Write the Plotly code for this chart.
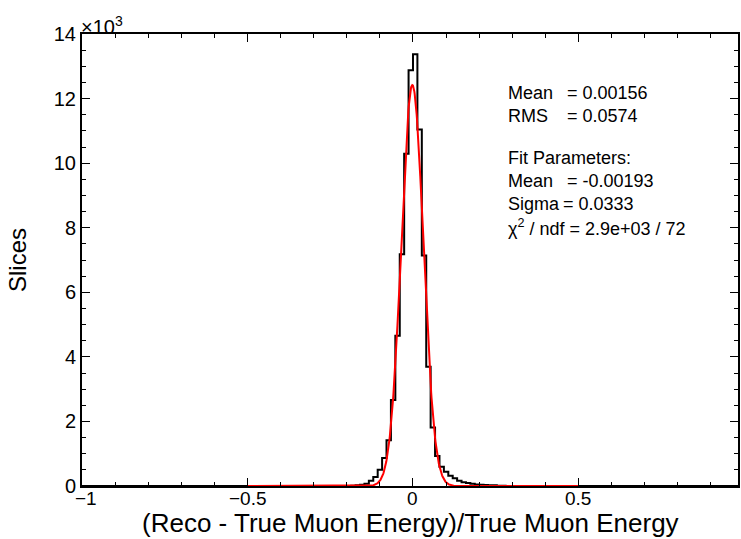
import numpy as np
import plotly.graph_objects as go

# ---- data ----
n_bins = 150
x_min, x_max = -1.0, 1.0
first_bin = 61  # index of first non-empty bin
counts_nonzero = [10, 20, 40, 70, 160, 280, 500, 870, 1420, 2660, 4650, 7180, 10290, 12880,
                  13370, 11040, 7140, 3690, 1810, 930, 600, 440, 320, 240, 160, 120, 90, 70,
                  50, 40, 30, 20, 20, 10, 10]

fit_const = 12420.0
fit_mean = -0.00193
fit_sigma = 0.0333
fit_range = [-0.5, 0.5]

stats_labels = ["Mean", "RMS"]
stats_values = ["= 0.00156", "= 0.0574"]
fit_labels = ["Mean", "Sigma"]
fit_values = ["= -0.00193", "= 0.0333"]
chi2_text = "χ<sup>2</sup> / ndf = 2.9e+03 / 72"

y_tick_vals = [0, 2000, 4000, 6000, 8000, 10000, 12000, 14000]
y_tick_text = ["0", "2", "4", "6", "8", "10", "12", "14"]
x_tick_vals = [-1, -0.5, 0, 0.5]
x_tick_text = ["\u22121", "\u22120.5", "0", "0.5"]
x_title = "(Reco - True Muon Energy)/True Muon Energy"

# ---- build histogram ----
counts = [0] * n_bins
for i, c in enumerate(counts_nonzero):
    counts[first_bin + i] = c
edges = np.linspace(x_min, x_max, n_bins + 1)
hx = list(edges[:-1]) + [edges[-1]]
hy = counts + [counts[-1]]

fx = np.linspace(fit_range[0], fit_range[1], 1001)
fy = fit_const * np.exp(-0.5 * ((fx - fit_mean) / fit_sigma) ** 2)

W, H = 741, 539
L, R, T, B = 82, 1, 34, 53

fig = go.Figure()
fig.add_trace(go.Scatter(x=hx, y=hy, mode="lines", line=dict(shape="hv", color="black", width=2),
                         showlegend=False, hoverinfo="skip"))
fig.add_trace(go.Scatter(x=fx, y=fy, mode="lines", line=dict(color="#ff0000", width=2),
                         showlegend=False, hoverinfo="skip"))

font = "Liberation Sans, Arial, Helvetica, sans-serif"
axis_common = dict(showline=True, linecolor="black", linewidth=2, mirror="ticks",
                   ticks="inside", tickcolor="black", tickwidth=1, ticklen=8,
                   showgrid=False, zeroline=False,
                   tickfont=dict(family=font, size=20, color="black"))

x_right = x_min + (W - R - L) / 332.0 * 1.0
fig.update_xaxes(range=[x_min, x_right], tickmode="array", tickvals=x_tick_vals, showticklabels=False,
                 minor=dict(ticks="inside", ticklen=4, tickcolor="black", tickmode="linear", tick0=0, dtick=0.1),
                 **axis_common)
fig.update_yaxes(range=[0, 14000], tickmode="array", tickvals=y_tick_vals, ticktext=y_tick_text,
                 minor=dict(ticks="inside", ticklen=4, tickcolor="black", tickmode="linear", tick0=0, dtick=500),
                 title=dict(text="Slices", font=dict(family=font, size=24, color="black"), standoff=20),
                 **axis_common)

PH = H - T - B

def py_to_paper(py):
    return 1 - (py - T) / PH

def px_to_paper(px):
    return (px - L) / (W - L - R)

ann = []
# x tick labels
for v, t in zip(x_tick_vals, x_tick_text):
    ann.append(dict(text=t, x=v, y=py_to_paper(498), xref="x", yref="paper", xanchor="center",
                    yanchor="middle", showarrow=False, borderpad=0,
                    font=dict(family=font, size=19, color="black"),
                    xshift=(4 if v == -1 else 0)))
# x title
ann.append(dict(text=x_title, x=0.5, y=py_to_paper(523), xref="paper", yref="paper", xanchor="center",
                yanchor="middle", showarrow=False, borderpad=0,
                font=dict(family=font, size=26, color="black")))
# exponent
ann.append(dict(text="×10<sup>3</sup>", x=0, y=1, xref="paper", yref="paper", xanchor="left",
                yanchor="bottom", showarrow=False, borderpad=0,
                font=dict(family=font, size=20, color="black"),
                xshift=-2, yshift=-5))

text_font = dict(family=font, size=18, color="black")
rows = [(93, stats_labels[0], stats_values[0], 567),
        (116, stats_labels[1], stats_values[1], 567),
        (181, fit_labels[0], fit_values[0], 567),
        (204, fit_labels[1], fit_values[1], 563)]
for yy, lab, val, xv in rows:
    ann.append(dict(text=lab, x=px_to_paper(508), y=py_to_paper(yy), xref="paper", yref="paper",
                    xanchor="left", yanchor="middle", showarrow=False, borderpad=0, font=text_font))
    ann.append(dict(text=val, x=px_to_paper(xv), y=py_to_paper(yy), xref="paper", yref="paper",
                    xanchor="left", yanchor="middle", showarrow=False, borderpad=0, font=text_font))
ann.append(dict(text="Fit Parameters:", x=px_to_paper(508), y=py_to_paper(158), xref="paper", yref="paper",
                xanchor="left", yanchor="middle", showarrow=False, borderpad=0, font=text_font))
ann.append(dict(text=chi2_text, x=px_to_paper(508), y=py_to_paper(227), xref="paper", yref="paper",
                xanchor="left", yanchor="middle", showarrow=False, borderpad=0, font=text_font))

fig.update_layout(width=W, height=H, margin=dict(l=L, r=R, t=T, b=B, pad=0),
                  paper_bgcolor="white", plot_bgcolor="white", annotations=ann,
                  font=dict(family=font, color="black"))

fig.write_html("out.html", include_plotlyjs=True, full_html=True,
               config={"displayModeBar": False})
